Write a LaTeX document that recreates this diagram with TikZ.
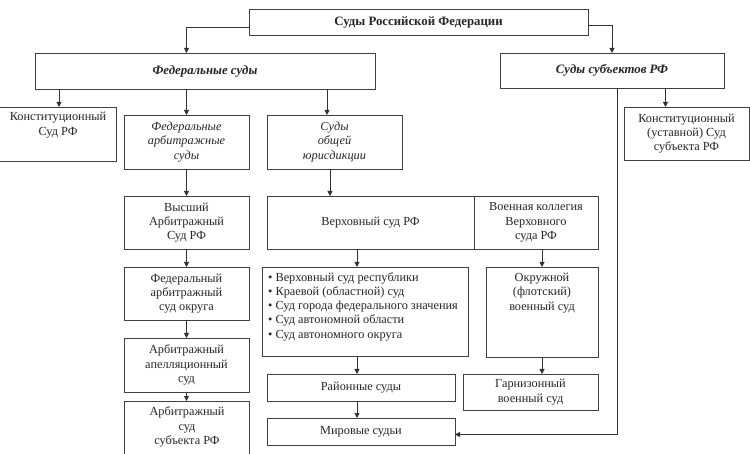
\documentclass[tikz,border=0pt]{standalone}
\usepackage{fontspec}
\setmainfont{Liberation Serif}
\usetikzlibrary{arrows.meta,calc}
\tikzset{
  box/.style={draw=black!75, line width=0.9pt, rectangle, inner sep=0pt, outer sep=0pt, align=center, text=black!85},
  txt/.style={align=center, inner sep=0pt, text=black!85},
  arr/.style={draw=black!80, line width=0.9pt, -{Triangle[length=5pt,width=5pt]}},
  hd/.style={font=\fontsize{12.8}{14.3}\selectfont\bfseries},
}
\newcommand\cbox[7][]{%
  \node[box,#1,minimum width={(#5-#3)*1pt},minimum height={(#6-#4)*1pt}] (#2) at ({(#3+#5)/2},{(#4+#6)/2}) {#7};}
\begin{document}
\begin{tikzpicture}[x=1pt,y=-1pt,font=\fontsize{12.3}{14.3}\selectfont]
\useasboundingbox (0,0) rectangle (750,454);
\fill[white] (0,0) rectangle (750,454);
% boxes
\cbox[hd]{top}{249}{9}{588}{35}{Суды Российской Федерации}
\cbox[hd]{fed}{35}{53}{375}{89}{\itshape Федеральные суды}
\cbox[hd]{subj}{500}{53}{724}{88}{\itshape Суды субъектов РФ}
\cbox{ksrf}{-5}{107}{116}{161}{}
\node[txt] (ksrft) at (58,125) {Конституционный\\Суд РФ};
\cbox{fas}{124}{115}{249}{169}{\itshape Федеральные\\\itshape арбитражные\\\itshape суды}
\cbox{soj}{267}{115}{402}{169}{\itshape Суды\\\itshape общей\\\itshape юрисдикции}
\cbox{ksub}{624}{107}{749}{160}{Конституционный\\(уставной) Суд\\субъекта РФ}
\cbox{vas}{124}{196}{249}{249}{Высший\\Арбитражный\\Суд РФ}
\cbox{vs}{267}{196}{474}{249}{Верховный суд РФ}
\cbox{vk}{474}{196}{598}{249}{Военная коллегия\\Верховного\\суда РФ}
\cbox{fok}{124}{267}{249}{320}{Федеральный\\арбитражный\\суд округа}
\cbox{aas}{124}{338}{249}{392}{Арбитражный\\апелляционный\\суд}
\cbox{asub}{124}{401}{249}{462}{}
\node[txt] (asubt) at (187,427) {Арбитражный\\суд\\субъекта РФ};
\cbox{list}{262}{267}{468}{356}{}
\node[txt,align=left,anchor=north west] (listt) at ($(list.north west)+(6,5)$) {%
\textbullet\ Верховный суд республики\\
\textbullet\ Краевой (областной) суд\\
\textbullet\ Суд города федерального значения\\
\textbullet\ Суд автономной области\\
\textbullet\ Суд автономного округа};
\cbox{rs}{267}{374}{455}{401}{Районные суды}
\cbox{ms}{267}{418}{455}{445}{Мировые судьи}
\cbox{ovs}{486}{267}{598}{357}{}
\node[txt] (ovst) at (542,293) {Окружной\\(флотский)\\военный суд};
\cbox{gvs}{463}{374}{598}{410}{Гарнизонный\\военный суд}
% connectors
\draw[arr] ($(top.south west)+(0,-8)$) -| (fed.north -| fas.north);
\draw[arr] ($(top.east)+(0,3)$) -| (subj.north);
\draw[arr] ($(fed.south west)+(24,0)$) coordinate (a1) -- (a1 |- ksrf.north);
\draw[arr] (fed.south -| fas.north) -- (fas.north);
\draw[arr] ($(fed.south west)+(292,0)$) coordinate (a2) -- (a2 |- soj.north);
\draw[arr] (subj.south -| ksub.north) ++(-21,0) coordinate (a3) -- (a3 |- ksub.north);
\draw[arr] (fas.south) -- (vas.north);
\draw[arr] (vas.south) -- (fok.north);
\draw[arr] (fok.south) -- (aas.north);
\draw[arr] (aas.south) -- (asub.north);
\draw[arr] ($(soj.south west)+(63,0)$) coordinate (a4) -- (a4 |- vs.north);
\draw[arr] ($(vs.south west)+(90,0)$) coordinate (a5) -- (a5 |- list.north);
\draw[arr] (list.south -| a5) -- (a5 |- rs.north);
\draw[arr] (rs.south -| a5) -- (a5 |- ms.north);
\draw[arr] (vk.south -| ovs.north) -- (ovs.north);
\draw[arr] (ovs.south) -- (ovs.south |- gvs.north);
\draw[arr] ($(subj.south west)+(117,0)$) coordinate (a6) |- ($(ms.east)+(0,3)$);
\end{tikzpicture}
\end{document}
